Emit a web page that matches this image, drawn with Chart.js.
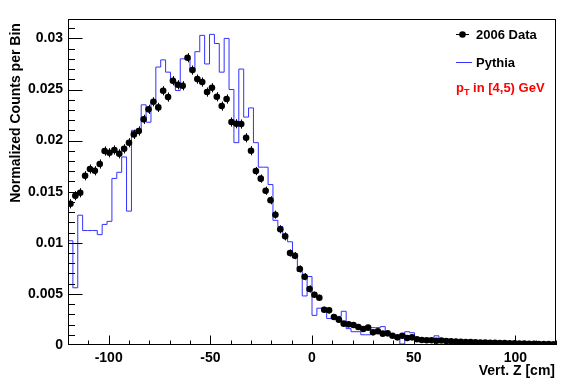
<!DOCTYPE html>
<html lang="en">
<head>
<meta charset="UTF-8">
<title>Vert. Z | 2006 Data vs Pythia</title>
<script src="https://cdn.jsdelivr.net/npm/chart.js"></script>
<style>
    html, body { margin: 0; padding: 0; background: #fff; }
    .chart-box { position: relative; width: 567px; height: 384px; }
</style>
</head>
<body>
<div class="chart-box"><canvas id="vzChart"></canvas></div>
<script>
    // 100 bins, -120 .. 120 cm
    const binLow = -120;
    const binWidth = 2.4;

    // 2006 Data (normalized counts per bin)
    const dataValues = [
        0.01382, 0.01461, 0.01490, 0.01656, 0.01722, 0.01705, 0.01771, 0.01898, 0.01881, 0.01908,
        0.01871, 0.01920, 0.01979, 0.02061, 0.02094, 0.02208, 0.02306, 0.02380, 0.02325, 0.02488,
        0.02426, 0.02586, 0.02546, 0.02537, 0.02811, 0.02690, 0.02602, 0.02573, 0.02475, 0.02517,
        0.02429, 0.02338, 0.02407, 0.02182, 0.02165, 0.02162, 0.02028, 0.01901, 0.01702, 0.01628,
        0.01510, 0.01416, 0.01275, 0.01132, 0.01063, 0.00900, 0.00874, 0.00744, 0.00668, 0.00548,
        0.00492, 0.00463, 0.00345, 0.00339, 0.00274, 0.00248, 0.00209, 0.00202, 0.00196, 0.00176,
        0.00157, 0.00170, 0.00124, 0.00134, 0.00111, 0.00114, 0.00091, 0.00075, 0.00091, 0.00068,
        0.00075, 0.00056, 0.00049, 0.00046, 0.00046, 0.00042, 0.00044, 0.00038, 0.00036, 0.00034,
        0.00031, 0.00030, 0.00028, 0.00027, 0.00025, 0.00024, 0.00022, 0.00021, 0.00020, 0.00019,
        0.00017, 0.00016, 0.00015, 0.00013, 0.00012, 0.00011, 0.00010, 0.00009, 0.00009, 0.00008
    ];

    const dataErrors = [
        0.00045, 0.00045, 0.00045, 0.00045, 0.00045, 0.00045, 0.00045, 0.00045, 0.00045, 0.00045,
        0.00045, 0.00045, 0.00045, 0.00045, 0.00045, 0.00045, 0.00045, 0.00045, 0.00045, 0.00045,
        0.00045, 0.00045, 0.00045, 0.00045, 0.00045, 0.00045, 0.00045, 0.00045, 0.00045, 0.00045,
        0.00045, 0.00045, 0.00045, 0.00045, 0.00045, 0.00045, 0.00045, 0.00045, 0.00040, 0.00040,
        0.00040, 0.00040, 0.00040, 0.00040, 0.00040, 0.00035, 0.00035, 0.00035, 0.00035, 0.00035,
        0.00030, 0.00030, 0.00030, 0.00030, 0.00025, 0.00025, 0.00025, 0.00025, 0.00025, 0.00020,
        0.00020, 0.00020, 0.00020, 0.00020, 0.00020, 0.00020, 0.00015, 0.00015, 0.00015, 0.00015,
        0.00015, 0.00015, 0.00015, 0.00015, 0.00012, 0.00012, 0.00012, 0.00012, 0.00012, 0.00012,
        0.00010, 0.00010, 0.00010, 0.00010, 0.00010, 0.00010, 0.00010, 0.00010, 0.00010, 0.00010,
        0.00008, 0.00008, 0.00008, 0.00008, 0.00008, 0.00008, 0.00008, 0.00008, 0.00008, 0.00008
    ];

    // Pythia histogram
    const pythiaValues = [
        0.0066, 0.0102, 0.0056, 0.0127, 0.0112, 0.0112, 0.0112, 0.0108, 0.0118, 0.0121,
        0.0163, 0.0169, 0.0184, 0.0131, 0.0210, 0.0210, 0.0235, 0.0218, 0.0237, 0.0272,
        0.0279, 0.0267, 0.0258, 0.0249, 0.0280, 0.0280, 0.0268, 0.0287, 0.0303, 0.0275,
        0.0304, 0.0295, 0.0267, 0.0300, 0.0250, 0.0198, 0.0270, 0.0223, 0.0232, 0.0198,
        0.0174, 0.0174, 0.0157, 0.0122, 0.0116, 0.0105, 0.0101, 0.0089, 0.0072, 0.0048,
        0.0067, 0.0029, 0.0036, 0.0036, 0.0026, 0.0026, 0.0028, 0.0033, 0.0016, 0.0013,
        0.0013, 0.0010, 0.0010, 0.0017, 0.0017, 0.0018, 0.0010, 0.0008, 0.0008, 0.0001,
        0.0013, 0.0012, 0.0007, 0.0005, 0.0005, 0.0004, 0.0009, 0.0005, 0.0004, 0.0004,
        0.0003, 0.0003, 0.0003, 0.0003, 0.0002, 0.0002, 0.0002, 0.0002, 0.0002, 0.0002,
        0.0001, 0.0001, 0.0001, 0.0001, 0.0001, 0.0001, 0.0001, 0.0001, 0.0001, 0.0001
    ];

    const xTickLabels = ['-100', '-50', '0', '50', '100'];
    const yTickLabels = ['0', '0.005', '0.01', '0.015', '0.02', '0.025', '0.03'];

    const FONT = '"Liberation Sans", Arial, Helvetica, sans-serif';
    const BLUE = 'rgb(50, 50, 255)';

    // points for the chart
    const dataPoints = dataValues.map((v, i) => ({ x: binLow + binWidth * (i + 0.5), y: v }));
    const pythiaPoints = pythiaValues.map((v, i) => ({ x: binLow + binWidth * i, y: v }));
    pythiaPoints.push({ x: binLow + binWidth * pythiaValues.length, y: pythiaValues[pythiaValues.length - 1] });

    // error bars for the data points
    const errorBars = {
        id: 'errorBars',
        beforeDatasetDraw(chart, args) {
            if (args.index !== 0) return;
            const { ctx, scales: { x, y } } = chart;
            ctx.save();
            ctx.strokeStyle = '#000';
            ctx.lineWidth = 1;
            ctx.beginPath();
            dataValues.forEach((v, i) => {
                const px = Math.round(x.getPixelForValue(binLow + binWidth * (i + 0.5))) + 0.5;
                ctx.moveTo(px, y.getPixelForValue(v + dataErrors[i]));
                ctx.lineTo(px, y.getPixelForValue(Math.max(0, v - dataErrors[i])));
            });
            ctx.stroke();
            ctx.restore();
        }
    };

    // ROOT style frame, inward ticks, titles and legend
    const rootFrame = {
        id: 'rootFrame',
        afterDraw(chart) {
            const { ctx, chartArea: a, scales: { x, y } } = chart;
            const w = a.right - a.left, h = a.bottom - a.top;
            ctx.save();
            ctx.strokeStyle = '#000';
            ctx.lineWidth = 1;
            ctx.strokeRect(a.left + 0.5, a.top + 0.5, w - 1, h - 1);

            // x ticks
            ctx.beginPath();
            for (let v = -110; v <= 120; v += 10) {
                const px = Math.round(x.getPixelForValue(v)) + 0.5;
                const len = v % 50 === 0 ? 9.5 : 4.5;
                ctx.moveTo(px, a.bottom);
                ctx.lineTo(px, a.bottom - len);
            }
            // y ticks
            for (let k = 1; k <= 31; k++) {
                const py = Math.round(y.getPixelForValue(k * 0.001)) + 0.5;
                const len = k % 5 === 0 ? 14.5 : 7;
                ctx.moveTo(a.left, py);
                ctx.lineTo(a.left + len, py);
            }
            ctx.stroke();

            // axis titles
            ctx.fillStyle = '#000';
            ctx.font = 'bold 14px ' + FONT;
            ctx.textAlign = 'right';
            ctx.textBaseline = 'middle';
            ctx.fillText('Vert. Z [cm]', 555, 371);

            ctx.save();
            ctx.translate(16, 113);
            ctx.rotate(-Math.PI / 2);
            ctx.textAlign = 'center';
            ctx.fillText('Normalized Counts per Bin', 0, 0);
            ctx.restore();

            // legend
            const ds = chart.data.datasets;
            ctx.font = 'bold 13px ' + FONT;
            ctx.textAlign = 'left';
            ctx.beginPath();
            ctx.moveTo(456, 34.5);
            ctx.lineTo(469, 34.5);
            ctx.stroke();
            ctx.beginPath();
            ctx.arc(462.5, 34.5, 3.3, 0, Math.PI * 2);
            ctx.fill();
            ctx.fillText(ds[0].label, 476, 35);

            ctx.strokeStyle = BLUE;
            ctx.beginPath();
            ctx.moveTo(456, 62.5);
            ctx.lineTo(472, 62.5);
            ctx.stroke();
            ctx.fillText(ds[1].label, 476, 63);

            ctx.fillStyle = '#ff0000';
            ctx.fillText('p', 456, 88);
            const pw = ctx.measureText('p').width;
            ctx.font = 'bold 9px ' + FONT;
            ctx.fillText('T', 456 + pw, 93);
            const tw = ctx.measureText('T').width;
            ctx.font = 'bold 13px ' + FONT;
            ctx.fillText(' in [4,5) GeV', 456 + pw + tw, 88);
            ctx.restore();
        }
    };

    new Chart(document.getElementById('vzChart'), {
        type: 'scatter',
        data: {
            datasets: [
                {
                    label: '2006 Data',
                    data: dataPoints,
                    pointRadius: 3.3,
                    pointHoverRadius: 3.3,
                    backgroundColor: '#000',
                    borderColor: '#000',
                    borderWidth: 0
                },
                {
                    type: 'line',
                    label: 'Pythia',
                    data: pythiaPoints,
                    stepped: 'after',
                    borderColor: BLUE,
                    borderWidth: 1,
                    pointRadius: 0,
                    fill: false
                }
            ]
        },
        options: {
            responsive: true,
            maintainAspectRatio: false,
            animation: false,
            layout: { padding: { top: 19, right: 11, left: 0, bottom: 0 } },
            plugins: {
                legend: { display: false },
                tooltip: { enabled: false }
            },
            scales: {
                x: {
                    type: 'linear',
                    min: -120,
                    max: 120,
                    grid: { display: false, drawTicks: false },
                    border: { display: false },
                    ticks: {
                        stepSize: 50,
                        includeBounds: false,
                        maxRotation: 0,
                        padding: 5,
                        color: '#000',
                        font: { family: FONT, size: 14, weight: 'bold' },
                        callback: (v, i) => xTickLabels[i]
                    },
                    afterFit(scale) { scale.height = 39; }
                },
                y: {
                    min: 0,
                    max: 0.0319,
                    grid: { display: false, drawTicks: false },
                    border: { display: false },
                    ticks: {
                        stepSize: 0.005,
                        includeBounds: false,
                        padding: 5,
                        color: '#000',
                        font: { family: FONT, size: 14, weight: 'bold' },
                        callback: (v, i) => yTickLabels[i]
                    },
                    afterFit(scale) { scale.width = 68; }
                }
            }
        },
        plugins: [errorBars, rootFrame]
    });
</script>
</body>
</html>
